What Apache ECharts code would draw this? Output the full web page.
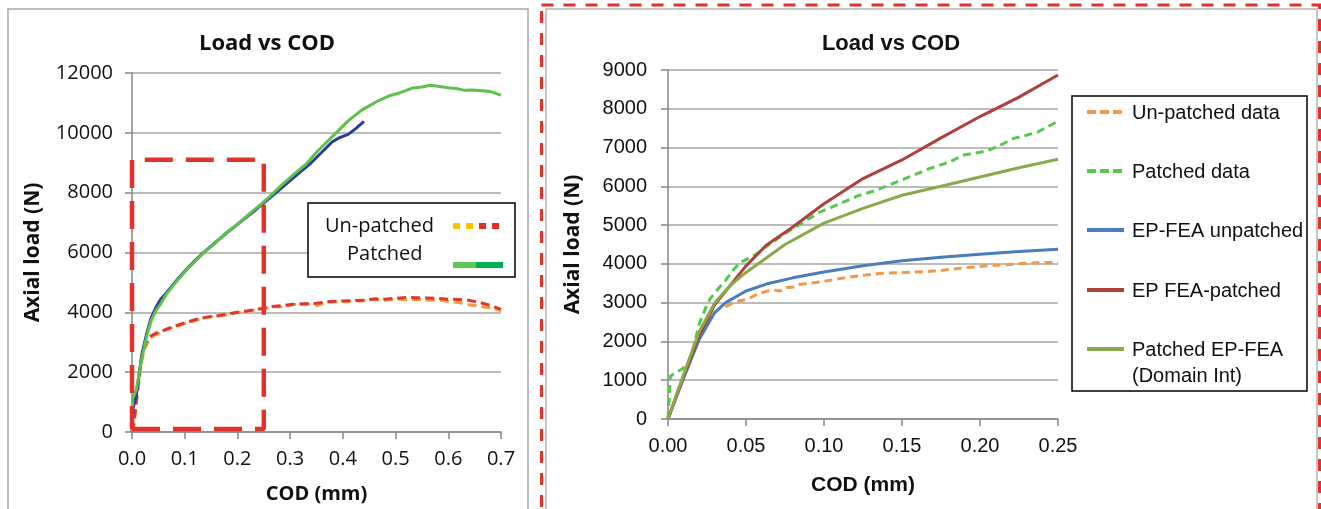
<!DOCTYPE html>
<html>
<head>
<meta charset="utf-8">
<script src="https://cdn.jsdelivr.net/npm/echarts@6/dist/echarts.min.js"></script>
<style>
  html, body { margin: 0; padding: 0; background: #fff; }
  #chart { width: 1321px; height: 509px; }
</style>
</head>
<body>
<div id="chart"></div>
<script>
// left chart: full test, COD (mm) vs axial load (N)
const leftXTicks = [0, 0.7, 0.1];
const leftYTicks = [0, 12000, 2000];
const unpatchedA = [[0,0],[0.004,400],[0.008,900],[0.012,1500],[0.016,2100],[0.02,2500],[0.025,2800],[0.03,3000],[0.037,3150],[0.045,3250],[0.055,3330],[0.063,3400],[0.075,3480],[0.085,3520],[0.095,3600],[0.11,3680],[0.125,3750],[0.141,3830],[0.16,3870],[0.18,3920],[0.2,3990],[0.22,4040],[0.246,4110],[0.27,4190],[0.29,4180],[0.305,4260],[0.33,4280],[0.35,4230],[0.37,4340],[0.4,4360],[0.435,4380],[0.46,4440],[0.48,4400],[0.5,4450],[0.52,4420],[0.54,4440],[0.56,4400],[0.58,4420],[0.6,4360],[0.62,4330],[0.64,4250],[0.66,4200],[0.68,4150],[0.7,4060]];
const unpatchedB = [[0,0],[0.004,300],[0.008,1000],[0.012,1700],[0.016,2300],[0.02,2700],[0.025,2950],[0.03,3100],[0.037,3220],[0.045,3300],[0.055,3360],[0.063,3420],[0.075,3500],[0.085,3560],[0.095,3620],[0.11,3700],[0.125,3780],[0.141,3840],[0.16,3880],[0.18,3940],[0.2,4000],[0.22,4050],[0.246,4130],[0.27,4200],[0.29,4230],[0.305,4270],[0.33,4290],[0.35,4300],[0.37,4350],[0.4,4380],[0.435,4400],[0.46,4450],[0.48,4440],[0.5,4470],[0.52,4500],[0.54,4490],[0.56,4480],[0.58,4470],[0.6,4440],[0.62,4430],[0.64,4400],[0.66,4330],[0.68,4230],[0.7,4100]];
const patchedA = [[0,0],[0.001,1100],[0.008,1400],[0.012,1800],[0.018,2400],[0.024,2900],[0.03,3350],[0.037,3750],[0.045,4050],[0.055,4300],[0.065,4600],[0.076,4850],[0.09,5150],[0.108,5500],[0.125,5800],[0.141,6070],[0.16,6350],[0.178,6650],[0.193,6850],[0.21,7100],[0.23,7400],[0.246,7630],[0.26,7850],[0.272,8050],[0.29,8350],[0.31,8650],[0.33,8950],[0.35,9350],[0.37,9700],[0.39,10050],[0.41,10400],[0.435,10750],[0.45,10900],[0.468,11080],[0.49,11250],[0.51,11350],[0.533,11500],[0.55,11530],[0.566,11590],[0.58,11560],[0.6,11510],[0.615,11480],[0.631,11420],[0.645,11430],[0.664,11410],[0.68,11380],[0.7,11260]];
const patchedB = [[0,0],[0.002,800],[0.008,1200],[0.014,2000],[0.02,2700],[0.028,3300],[0.036,3800],[0.045,4150],[0.055,4450],[0.065,4650],[0.076,4880],[0.09,5180],[0.108,5520],[0.125,5820],[0.141,6080],[0.16,6360],[0.178,6630],[0.193,6840],[0.21,7080],[0.23,7360],[0.246,7600],[0.26,7800],[0.28,8100],[0.3,8400],[0.32,8700],[0.34,9000],[0.36,9350],[0.38,9700],[0.395,9850],[0.41,9950],[0.425,10150],[0.44,10380]];
// zoom window shown on the right
const zoomBox = [[0,100],[0.25,100],[0.25,9100],[0,9100],[0,100]];

// right chart: zoom 0 - 0.25 mm
const rightXTicks = [0, 0.25, 0.05];
const rightYTicks = [0, 9000, 1000];
const unpatchedData = [[0,0],[0.004,450],[0.008,950],[0.011,1150],[0.014,1500],[0.017,1850],[0.02,2200],[0.024,2500],[0.029,2700],[0.033,2850],[0.037,2900],[0.042,3000],[0.046,3050],[0.05,3080],[0.054,3150],[0.057,3220],[0.062,3280],[0.067,3330],[0.072,3300],[0.076,3390],[0.08,3400],[0.084,3470],[0.09,3500],[0.097,3530],[0.11,3620],[0.122,3690],[0.135,3750],[0.151,3780],[0.165,3800],[0.175,3830],[0.19,3900],[0.205,3950],[0.224,4000],[0.235,4030],[0.25,4040]];
const patchedData = [[0,0],[0.0015,1100],[0.005,1200],[0.0095,1300],[0.013,1450],[0.016,1800],[0.02,2450],[0.024,2850],[0.027,3100],[0.032,3350],[0.037,3580],[0.042,3850],[0.046,4030],[0.052,4150],[0.057,4260],[0.063,4450],[0.067,4560],[0.075,4780],[0.085,5030],[0.097,5330],[0.11,5550],[0.122,5760],[0.132,5880],[0.141,6020],[0.155,6250],[0.167,6450],[0.18,6620],[0.189,6800],[0.205,6920],[0.214,7080],[0.221,7230],[0.23,7320],[0.237,7400],[0.244,7550],[0.25,7680]];
const feaUnpatched = [[0,0],[0.01,1050],[0.02,2050],[0.03,2750],[0.037,3000],[0.05,3300],[0.063,3480],[0.08,3640],[0.1,3790],[0.125,3950],[0.15,4080],[0.175,4170],[0.2,4250],[0.225,4320],[0.25,4380]];
const feaPatched = [[0,0],[0.01,1100],[0.02,2150],[0.03,2950],[0.04,3450],[0.05,3950],[0.063,4480],[0.08,4950],[0.1,5550],[0.125,6200],[0.15,6680],[0.175,7250],[0.2,7800],[0.225,8300],[0.25,8870]];
const feaDomainInt = [[0,0],[0.01,1150],[0.02,2250],[0.03,3000],[0.04,3450],[0.05,3780],[0.063,4150],[0.075,4500],[0.1,5050],[0.125,5430],[0.15,5770],[0.175,6000],[0.2,6240],[0.225,6480],[0.25,6700]];

const rightNames = ['Un-patched data', 'Patched data', 'EP-FEA unpatched', 'EP FEA-patched', 'Patched EP-FEA\n(Domain Int)'];
const rightColors = ['#f79646', '#55c84f', '#4a7ebb', '#b0403c', '#8aaa4a'];

const fontL = '"Open Sans", sans-serif';
const fontR = '"Liberation Sans", Arial, sans-serif';
const gridColor = '#a6a6a6';
const axisColor = '#868686';

const chart = echarts.init(document.getElementById('chart'));

function valueAxis(gridIndex, ticks, opts) {
    return Object.assign({
        type: 'value',
        gridIndex: gridIndex,
        min: ticks[0],
        max: ticks[1],
        interval: ticks[2],
        axisLine: {show: true, lineStyle: {color: axisColor, width: 1.5}},
        axisTick: {show: true, length: 7, lineStyle: {color: axisColor, width: 1.5}},
        splitLine: {show: false},
        nameLocation: 'middle',
        nameTextStyle: {fontWeight: 'bold', color: '#111'}
    }, opts);
}

function line(name, data, color, xi, dash, z) {
    return {
        type: 'line',
        name: name,
        xAxisIndex: xi,
        yAxisIndex: xi,
        data: data,
        symbol: 'none',
        z: z || 2,
        lineStyle: {color: color, width: 3, type: dash || 'solid'},
        itemStyle: {color: color}
    };
}

// excel style legend boxes, drawn by hand
const rightLegend = [];
const legendYs = [112, 171, 230, 290, 349];
rightNames.forEach((n, i) => {
    const y = legendYs[i];
    const dashed = i < 2;
    rightLegend.push({
        type: 'line', z: 101,
        shape: {x1: 1087, y1: y, x2: 1124, y2: y},
        style: {stroke: rightColors[i], lineWidth: 4, lineDash: dashed ? [9, 4] : null}
    });
    rightLegend.push({
        type: 'text', z: 101, left: 1132, top: y - 12,
        style: {text: n, font: '20px ' + fontR, fill: '#111', lineHeight: 26}
    });
});

chart.setOption({
    animation: false,
    title: [
        {text: 'Load vs COD', left: 262, top: 28, textAlign: 'center',
         textStyle: {fontFamily: fontL, fontWeight: 'bold', fontSize: 22, color: '#111'}},
        {text: 'Load vs COD', left: 886, top: 28, textAlign: 'center',
         textStyle: {fontFamily: fontR, fontWeight: 'bold', fontSize: 22, color: '#111'}}
    ],
    grid: [
        {left: 132, right: 820, top: 73, bottom: 77},
        {left: 668, right: 263, top: 70, bottom: 90}
    ],
    xAxis: [
        valueAxis(0, leftXTicks, {
            name: 'COD (mm)', nameGap: 52,
            nameTextStyle: {fontWeight: 'bold', fontFamily: fontL, fontSize: 20, color: '#111'},
            axisLabel: {margin: 17, fontFamily: fontL, fontSize: 20, color: '#111',
                formatter: v => v.toFixed(1)}
        }),
        valueAxis(1, rightXTicks, {
            name: 'COD (mm)', nameGap: 56,
            nameTextStyle: {fontWeight: 'bold', fontFamily: fontR, fontSize: 21, color: '#111'},
            axisLabel: {margin: 17, fontFamily: fontR, fontSize: 20, color: '#111',
                formatter: v => v.toFixed(2)}
        })
    ],
    yAxis: [
        valueAxis(0, leftYTicks, {
            name: 'Axial load (N)', nameGap: 88,
            nameTextStyle: {fontWeight: 'bold', fontFamily: fontL, fontSize: 21, color: '#111'},
            splitLine: {show: true, lineStyle: {color: gridColor, width: 1.5}},
            axisLabel: {margin: 19, fontFamily: fontL, fontSize: 20, color: '#111',
                formatter: v => String(v)}
        }),
        valueAxis(1, rightYTicks, {
            name: 'Axial load (N)', nameGap: 84,
            nameTextStyle: {fontWeight: 'bold', fontFamily: fontL, fontSize: 21, color: '#111'},
            splitLine: {show: true, lineStyle: {color: gridColor, width: 1.5}},
            axisLabel: {margin: 21, fontFamily: fontR, fontSize: 20, color: '#111',
                formatter: v => String(v)}
        })
    ],
    series: [
        line('Un-patched A', unpatchedA, '#f89a3c', 0, [9, 5]),
        line('Un-patched B', unpatchedB, '#e2362d', 0, [9, 5]),
        line('Patched B', patchedB, '#2b3b9c', 0),
        line('Patched A', patchedA, '#5dc14c', 0),
        Object.assign(line('zoom', zoomBox, '#e3322b', 0, [28, 13], 5), {
            lineStyle: {color: '#e3322b', width: 4.5, type: [28, 13]}
        }),
        line(rightNames[0], unpatchedData, rightColors[0], 1, [8, 5]),
        line(rightNames[1], patchedData, rightColors[1], 1, [8, 5]),
        line(rightNames[2], feaUnpatched, rightColors[2], 1),
        line(rightNames[3], feaPatched, rightColors[3], 1),
        line(rightNames[4], feaDomainInt, rightColors[4], 1)
    ],
    graphic: [
        // chart frames
        {type: 'rect', z: 0, shape: {x: 8, y: 9, width: 520, height: 540},
         style: {fill: null, stroke: '#a8a8a8', lineWidth: 1.5}},
        {type: 'rect', z: 0, shape: {x: 546, y: 9, width: 771, height: 540},
         style: {fill: null, stroke: '#b4b4b4', lineWidth: 1.5}},
        {type: 'rect', z: 0, shape: {x: 541.5, y: 5, width: 778, height: 540},
         style: {fill: null, stroke: '#e3322b', lineWidth: 3, lineDash: [12, 10]}},
        // left legend
        {type: 'rect', z: 100, shape: {x: 308, y: 203, width: 207, height: 74},
         style: {fill: '#fff', stroke: '#000', lineWidth: 1.5}},
        {type: 'text', z: 101, left: 325, top: 216,
         style: {text: 'Un-patched', font: '20px ' + fontL, fill: '#111'}},
        {type: 'text', z: 101, left: 347, top: 244,
         style: {text: 'Patched', font: '20px ' + fontL, fill: '#111'}},
        {type: 'rect', z: 101, shape: {x: 453, y: 223, width: 7, height: 6}, style: {fill: '#ffc000'}},
        {type: 'rect', z: 101, shape: {x: 466, y: 223, width: 7, height: 6}, style: {fill: '#ffc000'}},
        {type: 'rect', z: 101, shape: {x: 479, y: 223, width: 7, height: 6}, style: {fill: '#e0302c'}},
        {type: 'rect', z: 101, shape: {x: 492, y: 223, width: 7, height: 6}, style: {fill: '#e0302c'}},
        {type: 'rect', z: 101, shape: {x: 453, y: 262, width: 23, height: 6}, style: {fill: '#5dc853'}},
        {type: 'rect', z: 101, shape: {x: 476, y: 262, width: 27, height: 6}, style: {fill: '#00b050'}},
        // right legend
        {type: 'rect', z: 100, shape: {x: 1072, y: 96, width: 235, height: 295},
         style: {fill: '#fff', stroke: '#000', lineWidth: 1.5}}
    ].concat(rightLegend)
});
</script>
</body>
</html>
